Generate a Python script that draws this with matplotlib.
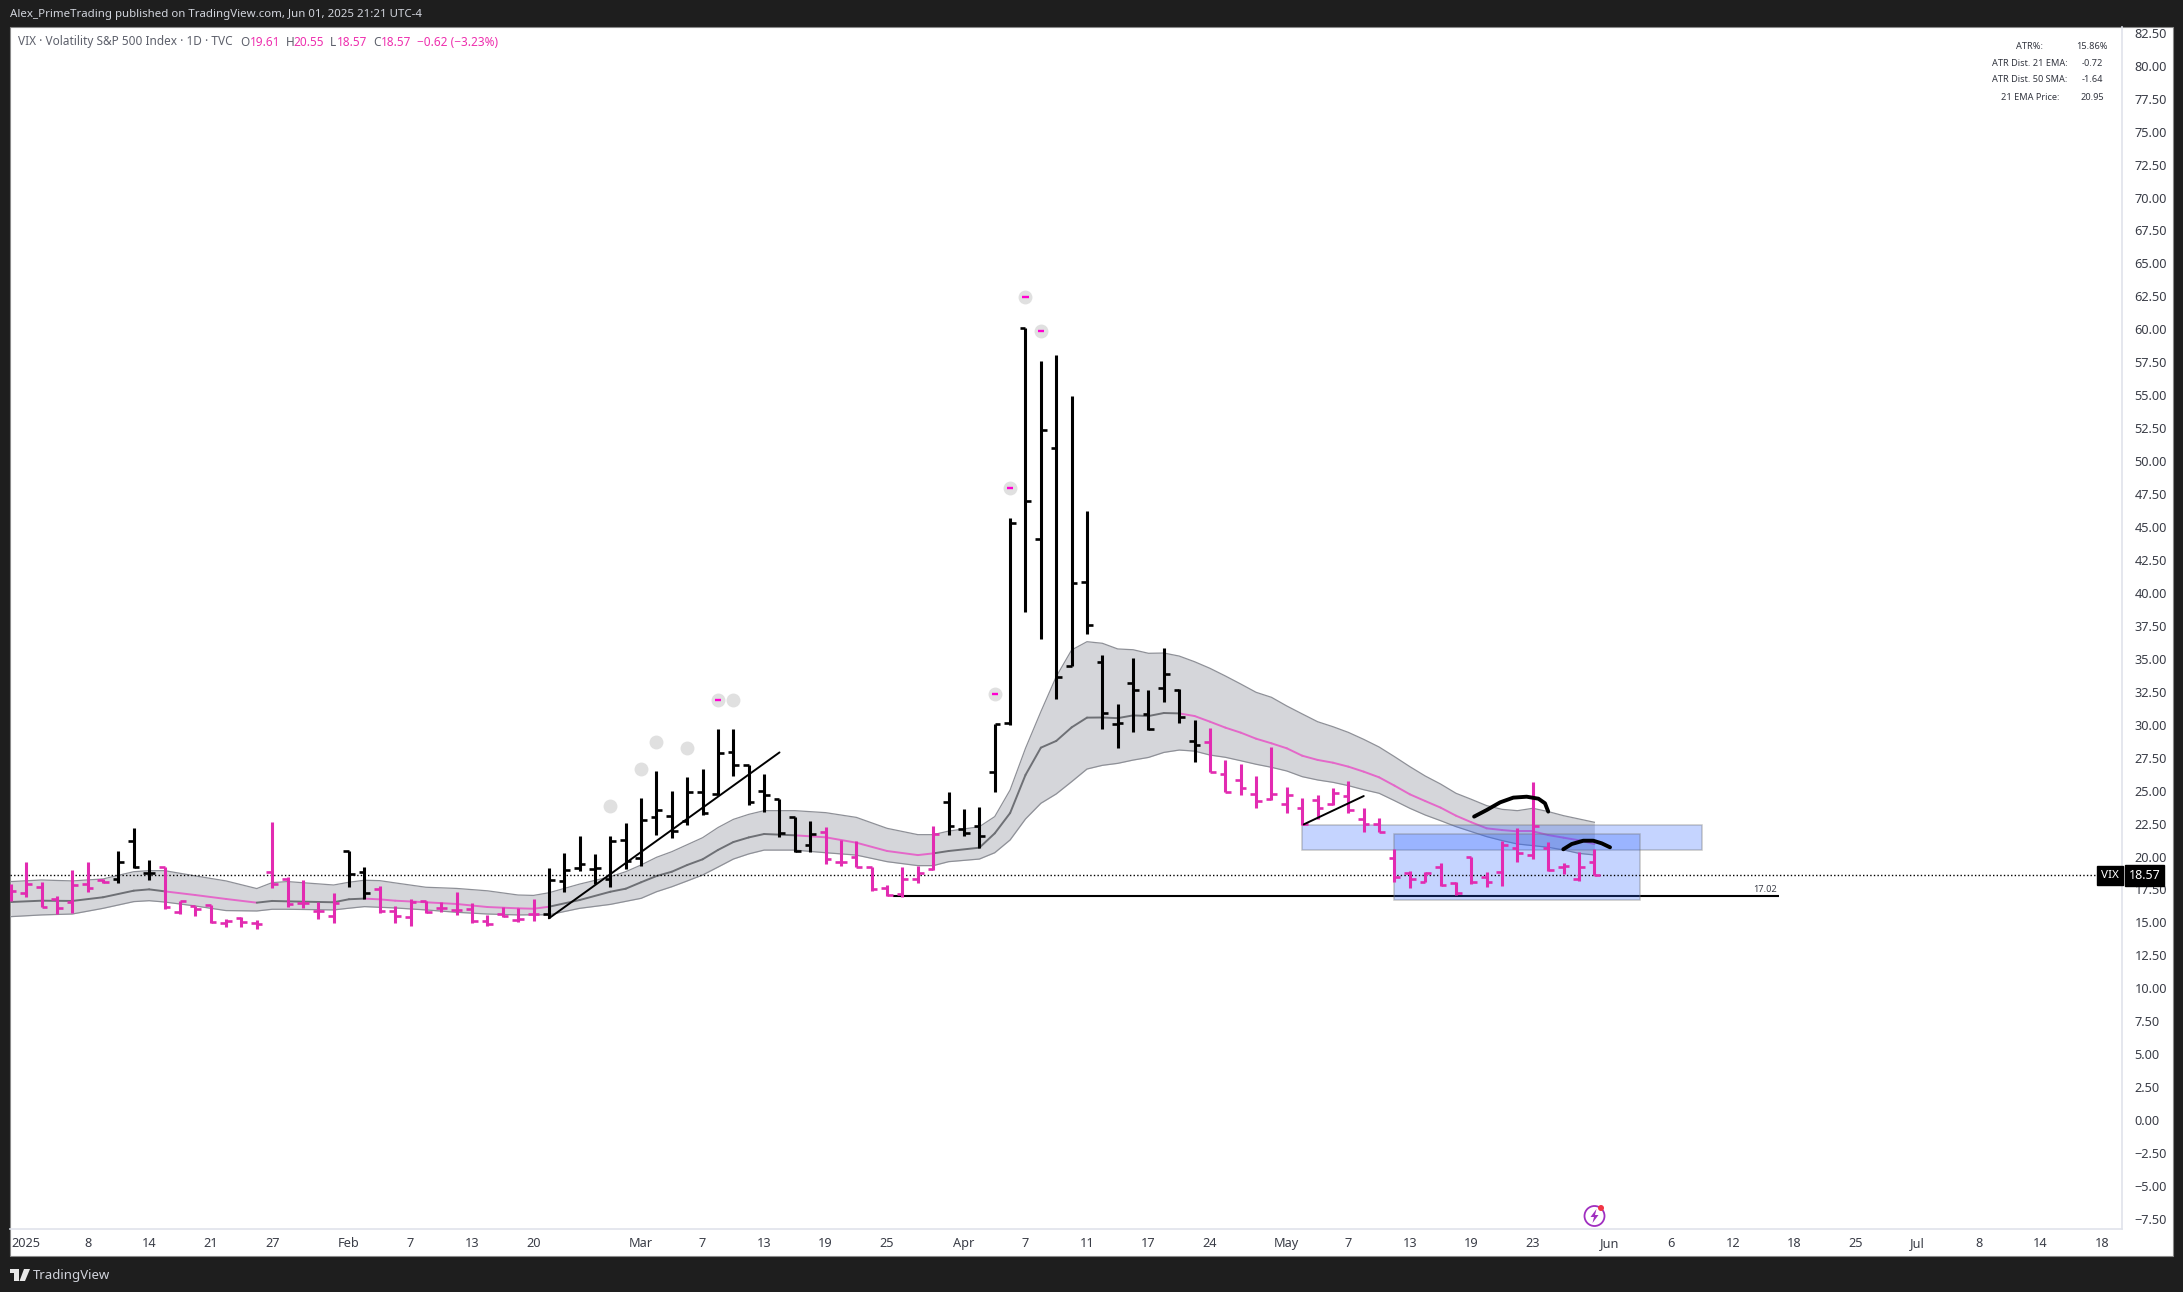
import numpy as np
import matplotlib
matplotlib.use("Agg")
import matplotlib.pyplot as plt
from matplotlib.patches import Rectangle, Polygon, Circle
from matplotlib.transforms import blended_transform_factory

W, H = 2183, 1292

# ---- OHLC, one value per daily bar (bar 0 = Dec 31)
opens = [17.60, 17.21, 17.67, 16.75, 16.53, 17.89, 18.22, 18.27, 21.16, 18.78,
         19.18, 15.82, 16.22, 16.30, 14.93, 15.34, 14.99, 18.80, 18.32, 16.50,
         15.90, 15.49, 20.42, 18.83, 17.51, 15.90, 15.39, 16.60, 16.12, 15.92,
         16.00, 15.09, 15.62, 15.16, 15.64, 15.61, 18.14, 19.10, 19.03, 18.27,
         21.23, 19.86, 22.97, 23.07, 22.67, 24.87, 24.77, 27.90, 26.94, 24.95,
         24.36, 22.97, 20.85, 21.83, 19.56, 19.99, 19.18, 17.61, 17.13, 18.32,
         19.05, 24.11, 22.06, 22.32, 26.39, 30.10, 60.07, 44.07, 50.97, 34.48,
         40.80, 34.73, 30.05, 33.20, 30.79, 32.76, 32.61, 28.77, 28.67, 26.24,
         25.78, 24.77, 24.34, 23.99, 23.66, 24.26, 23.96, 24.57, 22.82, 22.44,
         19.87, 18.73, 18.09, 19.18, 17.97, 19.94, 18.47, 18.83, 20.62, 20.14,
         20.62, 19.18, 18.27, 19.61]
highs = [17.92, 19.56, 18.07, 16.98, 18.98, 19.56, 18.28, 20.42, 22.14, 19.74,
         19.23, 16.65, 16.25, 16.33, 15.24, 15.44, 15.19, 22.60, 18.48, 18.22,
         16.55, 17.20, 20.45, 19.18, 17.79, 16.25, 16.76, 16.65, 16.53, 17.29,
         16.45, 15.57, 16.15, 16.07, 16.76, 19.10, 20.30, 21.53, 20.17, 21.53,
         22.52, 24.41, 26.46, 24.95, 26.01, 26.61, 29.65, 29.65, 26.94, 26.24,
         24.36, 23.02, 22.67, 22.21, 21.25, 21.20, 19.23, 17.84, 19.18, 19.28,
         22.32, 24.87, 23.58, 23.73, 30.05, 45.66, 60.12, 57.60, 58.03, 54.94,
         46.19, 35.26, 31.57, 35.04, 32.61, 35.79, 32.73, 30.33, 29.73, 27.30,
         26.99, 26.09, 28.29, 25.25, 24.42, 24.70, 25.18, 25.71, 23.66, 22.90,
         20.55, 18.93, 18.85, 19.48, 18.04, 20.00, 18.80, 21.15, 22.14, 25.63,
         21.08, 19.48, 20.32, 20.55]
lows = [16.65, 16.96, 16.15, 15.64, 15.72, 17.34, 18.02, 18.02, 19.16, 18.22,
        16.00, 15.62, 15.52, 14.93, 14.63, 14.63, 14.53, 17.59, 16.20, 16.10,
        15.29, 14.93, 17.67, 16.75, 15.74, 14.99, 14.76, 15.69, 15.77, 15.59,
        14.99, 14.76, 15.39, 15.06, 15.14, 15.31, 17.28, 18.87, 17.91, 17.66,
        19.03, 19.25, 21.66, 21.38, 22.37, 23.12, 24.64, 26.13, 23.88, 23.40,
        21.46, 20.32, 20.37, 19.41, 19.31, 19.18, 17.41, 17.03, 16.95, 17.97,
        18.98, 21.66, 21.58, 20.67, 24.92, 29.98, 38.58, 36.48, 31.93, 34.48,
        36.86, 29.70, 28.26, 29.47, 29.60, 31.75, 30.10, 27.14, 26.39, 24.87,
        24.69, 23.71, 24.29, 23.28, 22.39, 22.82, 23.91, 23.28, 21.89, 21.84,
        18.09, 17.64, 18.04, 17.79, 17.11, 17.89, 17.71, 17.79, 19.61, 19.84,
        18.93, 18.70, 18.12, 18.57]
closes = [17.39, 17.89, 16.20, 16.07, 17.82, 17.64, 18.10, 19.56, 19.23, 18.78,
          16.15, 16.60, 16.00, 15.06, 15.09, 15.01, 14.88, 17.90, 16.40, 16.50,
          15.90, 16.48, 18.65, 17.21, 15.85, 15.49, 16.55, 15.82, 16.07, 15.92,
          15.09, 14.86, 15.47, 15.24, 15.64, 18.19, 18.95, 19.43, 19.10, 21.15,
          19.63, 22.74, 23.50, 21.91, 24.87, 23.33, 27.83, 26.92, 24.16, 24.64,
          21.76, 20.44, 21.68, 19.84, 19.56, 19.23, 17.51, 17.11, 18.32, 18.72,
          21.68, 22.32, 21.76, 21.56, 30.05, 45.28, 46.97, 52.33, 33.59, 40.73,
          37.54, 30.86, 30.10, 32.61, 29.65, 33.82, 30.56, 28.44, 26.44, 24.92,
          25.18, 24.19, 24.72, 24.64, 22.50, 23.66, 24.80, 23.53, 22.44, 21.89,
          18.42, 18.27, 18.73, 17.87, 17.21, 18.09, 18.09, 20.85, 20.24, 22.29,
          18.98, 19.31, 19.18, 18.57]
# bars drawn pink, as (first, last) bar
pink_spans = [(0, 6), (10, 21), (24, 34), (53, 60), (78, 103)]

# ---- ribbon read at these bars
band_idx = [0, 2, 4, 6, 8, 9, 10, 12, 14, 16, 17, 18, 21, 22, 23, 24, 25, 27, 29, 31,
            33, 34, 35, 37, 39, 40, 41, 42, 43, 44, 45, 46, 47, 48, 49, 51, 53, 55, 57, 59,
            60, 61, 63, 64, 65, 66, 67, 68, 69, 70, 71, 72, 73, 74, 75, 76, 77, 78, 79, 80,
            81, 82, 83, 84, 85, 86, 87, 88, 89, 90, 91, 92, 93, 94, 95, 96, 97, 98, 99, 100,
            101, 102, 103]
band_upper = [18.10, 18.22, 18.15, 18.30, 18.85, 18.93, 18.93, 18.53, 18.15, 17.57, 18.02, 18.10, 17.84, 18.05, 18.20, 18.17, 18.00, 17.67, 17.58, 17.40,
              17.08, 17.05, 17.25, 17.91, 18.47, 18.85, 19.36, 19.94, 20.37, 20.90, 21.43, 22.20, 22.82, 23.20, 23.48, 23.48, 23.33, 22.97, 22.14, 21.66,
              21.66, 21.93, 22.26, 23.03, 25.05, 28.21, 30.99, 33.65, 35.67, 36.30, 36.18, 35.75, 35.69, 35.42, 35.44, 35.21, 34.78, 34.28, 33.70, 33.09,
              32.46, 32.08, 31.42, 30.82, 30.23, 29.85, 29.42, 28.89, 28.31, 27.58, 26.82, 26.11, 25.50, 24.80, 24.34, 23.86, 23.58, 23.48, 23.66, 23.41,
              23.10, 22.85, 22.60]
band_mid = [16.55, 16.65, 16.63, 16.91, 17.41, 17.51, 17.36, 17.08, 16.78, 16.50, 16.63, 16.60, 16.53, 16.76, 16.81, 16.75, 16.65, 16.53, 16.40, 16.17,
            16.07, 16.04, 16.19, 16.70, 17.33, 17.56, 18.05, 18.52, 18.85, 19.36, 19.79, 20.50, 21.10, 21.45, 21.71, 21.61, 21.46, 21.05, 20.42, 20.11,
            20.24, 20.42, 20.67, 21.76, 23.30, 26.19, 28.26, 28.77, 29.80, 30.54, 30.55, 30.50, 30.71, 30.66, 30.89, 30.86, 30.66, 30.23, 29.78, 29.40,
            28.94, 28.59, 28.21, 27.65, 27.33, 27.12, 26.82, 26.44, 26.01, 25.38, 24.72, 24.21, 23.71, 23.10, 22.60, 22.14, 22.01, 21.91, 21.91, 21.63,
            21.43, 21.23, 20.95]
band_lower = [15.44, 15.57, 15.64, 16.07, 16.58, 16.65, 16.55, 16.25, 15.90, 15.87, 16.00, 16.00, 15.95, 16.08, 16.20, 16.15, 16.10, 15.95, 15.77, 15.64,
              15.57, 15.58, 15.58, 16.07, 16.37, 16.60, 16.83, 17.33, 17.71, 18.15, 18.60, 19.20, 19.81, 20.20, 20.49, 20.49, 20.29, 20.11, 19.61, 19.31,
              19.31, 19.61, 19.81, 20.29, 21.26, 22.85, 24.04, 24.75, 25.68, 26.64, 26.92, 27.07, 27.32, 27.52, 27.90, 28.08, 28.00, 27.70, 27.53, 27.27,
              27.00, 26.77, 26.49, 26.06, 25.81, 25.63, 25.38, 25.07, 24.80, 24.24, 23.66, 23.15, 22.72, 22.27, 21.89, 21.51, 21.21, 20.95, 20.83, 20.70,
              20.50, 20.24, 20.12]
# middle line is pink between these bars
mid_pink_spans = [(10, 16), (23, 35), (51, 60), (76, 103)]

# ---- dots above the bars
dot_x = [39, 41, 42, 44, 46, 47, 64, 65, 66, 67]
dot_y = [23.81, 26.61, 28.66, 28.21, 31.85, 31.85, 32.30, 47.93, 62.43, 59.85]
dash_x = [46, 64, 65, 66, 67]
dash_y = [31.85, 32.30, 47.93, 62.43, 59.85]

# ---- drawings
trend1_x, trend1_y = [35, 50.0], [15.31, 27.90]
trend2_x, trend2_y = [84.1, 88.0], [22.44, 24.59]
stroke1_x = [95.18, 96.0, 96.87, 97.73, 98.6, 99.36, 99.79, 100.0]
stroke1_y = [23.03, 23.53, 24.11, 24.47, 24.54, 24.39, 24.04, 23.41]
stroke2_x = [100.98, 101.53, 102.28, 102.93, 103.48, 104.02]
stroke2_y = [20.55, 20.95, 21.20, 21.20, 21.00, 20.70]
support_level = 17.02
support_x = [57.4, 115]
box1 = (84, 110, 20.47, 22.37)
box2 = (90, 106, 16.68, 21.68)
last_price = 18.57

# ---- labels
ytick_vals = np.arange(-7.5, 82.6, 2.5)
xtick_idx = [1, 5, 9, 13, 17, 22, 26, 30, 34, 41, 45, 49, 53, 57, 62, 66, 70, 74, 78,
             83, 87, 91, 95, 99, 104, 108, 112, 116, 120, 124, 128, 132, 136]
xtick_lab = ['2025', '8', '14', '21', '27', 'Feb', '7', '13', '20', 'Mar', '7', '13', '19', '25', 'Apr', '7', '11', '17', '24',
             'May', '7', '13', '19', '23', 'Jun', '6', '12', '18', '25', 'Jul', '8', '14', '18']
table_names = ['ATR%:', 'ATR Dist. 21 EMA:', 'ATR Dist. 50 SMA:', '21 EMA Price:']
table_vals = ['15.86%', '-0.72', '-1.64', '20.95']
legend_keys = ['O', 'H', 'L', 'C']
legend_vals = ['19.61', '20.55', '18.57', '18.57']

PINK = '#e22bb1'
FONT = 'Noto Sans'
AXIS_COL = '#e0e3eb'
TEXT_COL = '#3a3d47'

plt.rcParams['font.family'] = [FONT, 'DejaVu Sans']


def px(x, y):
    # pixel position -> figure fraction
    return x / W, 1 - y / H


def in_spans(i, spans):
    return any(a <= i <= b for a, b in spans)


fig = plt.figure(figsize=(W / 100, H / 100), dpi=100, facecolor='#1e1e1e')
fig.add_artist(Rectangle(px(10, 1256), 2163 / W, 1229 / H, transform=fig.transFigure,
                         facecolor='white', edgecolor='#8a8a8a', linewidth=0.8, zorder=-1))

ax = fig.add_axes([10 / W, 1 - 1229 / H, 2112 / W, 1202 / H])
ax.set_facecolor('none')
ax.set_xlim(-0.05, 137.32)
ax.set_ylim(-8.26, 82.94)

# ribbon
ax.fill_between(band_idx, band_lower, band_upper, color='#d5d6da', lw=0, zorder=1)
ax.plot(band_idx, band_upper, color='#8e9097', lw=0.9, zorder=1.2)
ax.plot(band_idx, band_lower, color='#8e9097', lw=0.9, zorder=1.2)
for k in range(len(band_idx) - 1):
    mid_col = '#e468c9' if in_spans((band_idx[k] + band_idx[k + 1]) / 2, mid_pink_spans) else '#6e7075'
    ax.plot(band_idx[k:k + 2], band_mid[k:k + 2], color=mid_col, lw=1.4, zorder=1.4,
            solid_capstyle='round')

# level and boxes
ax.plot(support_x, [support_level, support_level], color='black', lw=1.5, zorder=2,
        solid_capstyle='butt')
ax.text(support_x[1] - 0.15, support_level + 0.15, f'{support_level:.2f}', fontsize=6.6,
        color=TEXT_COL, ha='right', va='bottom', zorder=6)
for x0, x1, y0, y1 in (box1, box2):
    ax.add_patch(Rectangle((x0, y0), x1 - x0, y1 - y0, facecolor=(0.16, 0.38, 1.0, 0.27),
                           edgecolor=(0.45, 0.45, 0.45, 0.4), linewidth=1.1, zorder=3))

# dots
ax.scatter(dot_x, dot_y, s=100, color='#e0e0e0', lw=0, zorder=3)
ax.hlines(dash_y, np.array(dash_x) - 0.2, np.array(dash_x) + 0.2, color='#ff00d0', lw=1.7, zorder=3.5)

# current price line
ax.axhline(last_price, color='black', lw=1.0, ls=(0, (1, 1.6)), zorder=4)

# bars
idx = np.arange(len(closes))
cols = [PINK if in_spans(i, pink_spans) else 'black' for i in idx]
ax.vlines(idx, lows, highs, colors=cols, lw=2.2, capstyle='butt', zorder=5)
ax.hlines(opens, idx - 0.37, idx, colors=cols, lw=1.9, capstyle='butt', zorder=5)
ax.hlines(closes, idx, idx + 0.37, colors=cols, lw=1.9, capstyle='butt', zorder=5)

# drawings
ax.plot(trend1_x, trend1_y, color='black', lw=1.4, zorder=6, solid_capstyle='round')
ax.plot(trend2_x, trend2_y, color='black', lw=1.4, zorder=6, solid_capstyle='round')
ax.plot(stroke1_x, stroke1_y, color='black', lw=2.8, zorder=6, solid_capstyle='round')
ax.plot(stroke2_x, stroke2_y, color='black', lw=2.8, zorder=6, solid_capstyle='round')

# axes
for side in ('left', 'top'):
    ax.spines[side].set_visible(False)
for side in ('right', 'bottom'):
    ax.spines[side].set_color(AXIS_COL)
    ax.spines[side].set_linewidth(1.2)
ax.yaxis.tick_right()
ax.set_yticks(ytick_vals)
ax.set_yticklabels([f'{v:.2f}'.replace('-', '\u2212') for v in ytick_vals])
ax.set_xticks(xtick_idx)
ax.set_xticklabels(xtick_lab)
ax.tick_params(axis='both', length=0, labelsize=9.2, colors=TEXT_COL)
ax.tick_params(axis='x', pad=5.5)
ax.tick_params(axis='y', pad=9)

# price tags
tr = blended_transform_factory(ax.transAxes, ax.transData)
ax.text(0.9985, last_price, 'VIX', transform=tr, ha='right', va='center', fontsize=8.4,
        color='white', fontweight='bold', zorder=8, clip_on=False,
        bbox=dict(boxstyle='square,pad=0.32', fc='black', ec='black'))
ax.text(1.0032, last_price, f'{last_price:.2f}', transform=tr, ha='left', va='center',
        fontsize=9, color='white', fontweight='bold', zorder=8, clip_on=False,
        bbox=dict(boxstyle='square,pad=0.3', fc='black', ec='black'))

# header and legend
fig.text(*px(10, 15), 'Alex_PrimeTrading published on TradingView.com, Jun 01, 2025 21:21 UTC-4',
         color='#d1d4dc', fontsize=8.25, va='center')
fig.text(*px(18, 42), 'VIX \u00b7 Volatility S&P 500 Index \u00b7 1D \u00b7 TVC', color='#5d606b',
         fontsize=8.5, va='center')
for k, v, kx, vx in zip(legend_keys, legend_vals, [240, 285.7, 330, 373], [250, 293, 337, 381]):
    fig.text(*px(kx, 42), k, color='#5d606b', fontsize=8.5, va='center')
    fig.text(*px(vx, 42), v, color='#ee2fae', fontsize=8.5, va='center')
fig.text(*px(417, 42), '\u22120.62 (\u22123.23%)', color='#ee2fae', fontsize=8.5, va='center')

# table top right
for name, val, y in zip(table_names, table_vals, [46.5, 63.5, 80, 97]):
    fig.text(*px(2030, y), name, color='#333640', fontsize=6.6, ha='center', va='center')
    fig.text(*px(2092, y), val, color='#333640', fontsize=6.6, ha='center', va='center')

# logo
fig.add_artist(Polygon([px(10, 1269), px(19, 1269), px(19, 1281), px(14, 1281), px(14, 1273), px(10, 1273)],
                       transform=fig.transFigure, facecolor='#e8e8e8', lw=0))
fig.add_artist(Polygon([px(24, 1269), px(30, 1269), px(25, 1281), px(19.5, 1281)],
                       transform=fig.transFigure, facecolor='#e8e8e8', lw=0))
fig.text(*px(33, 1275), 'TradingView', color='#d1d4dc', fontsize=9.5, va='center')

# lightning icon
icon_x, icon_y = 1594.5, 1216
ax_icon = fig.add_axes([0, 0, 1, 1], facecolor='none')
ax_icon.set_xlim(0, W)
ax_icon.set_ylim(H, 0)
ax_icon.axis('off')
ax_icon.add_patch(Circle((icon_x, icon_y), 10, fill=False, edgecolor='#a02fc0', lw=1.3))
bolt = [(2, -7), (-4, 1), (-0.5, 1), (-2, 7), (4, -1), (0.5, -1)]
ax_icon.add_patch(Polygon([(icon_x + a, icon_y + b) for a, b in bolt], facecolor='#a02fc0', lw=0))
ax_icon.add_patch(Circle((icon_x + 6.5, icon_y - 8), 3, facecolor='#f23645', lw=0))

fig.savefig('out.png', dpi=100, facecolor=fig.get_facecolor())
